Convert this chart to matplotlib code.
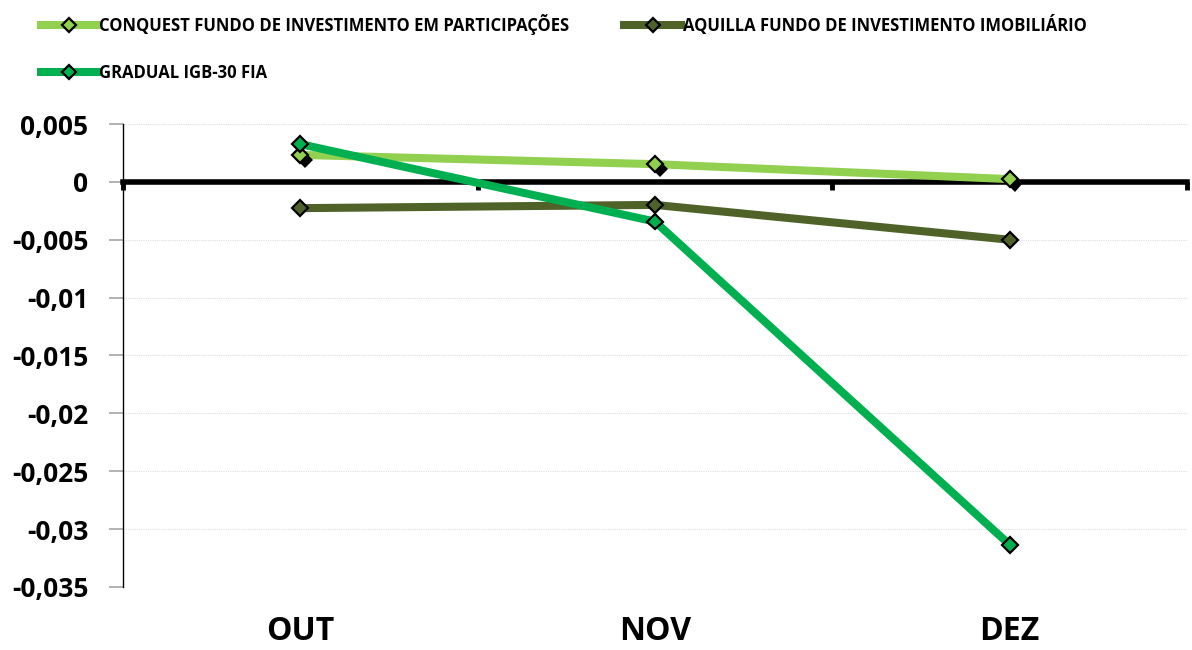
import matplotlib
matplotlib.use("Agg")
import matplotlib.pyplot as plt
import matplotlib.patheffects as pe

plt.rcParams['font.family'] = ['Open Sans', 'DejaVu Sans']

meses = ['OUT', 'NOV', 'DEZ']
conquest = [0.00233, 0.00153, 0.00024]
aquilla = [-0.00227, -0.00199, -0.00500]
gradual = [0.00326, -0.00343, -0.03135]
y_ticks = [0.005, 0, -0.005, -0.01, -0.015, -0.02, -0.025, -0.03, -0.035]
y_labels = ['0,005', '0', '-0,005', '-0,01', '-0,015', '-0,02', '-0,025', '-0,03', '-0,035']

nomes = ['CONQUEST FUNDO DE INVESTIMENTO EM PARTICIPAÇÕES',
         'AQUILLA FUNDO DE INVESTIMENTO IMOBILIÁRIO',
         'GRADUAL IGB-30 FIA']
cores = ['#92D050', '#4F6228', '#00B050']

fig = plt.figure(figsize=(11.92, 6.5), dpi=100)
ax = fig.add_axes([123/1192, 1 - 587/650, (1187 - 123)/1192, (587 - 124)/650])

x = list(range(len(meses)))
handles = []
for i, (vals, nome, cor) in enumerate(zip([conquest, aquilla, gradual], nomes, cores)):
    ax.plot(x, vals, color=cor, lw=5.8, solid_capstyle='butt', zorder=3 + i)
    efeitos = [pe.Normal()]
    if i == 0:
        # sombra preta por baixo dos marcadores da primeira serie
        efeitos = [pe.SimplePatchShadow(offset=(3.5, -3.5), shadow_rgbFace='black', alpha=1), pe.Normal()]
    ax.plot(x, vals, ls='none', marker='D', ms=8, mfc=cor, mec='black', mew=1.6,
            zorder=3.5 + i, path_effects=efeitos)
    h, = ax.plot([], [], color=cor, lw=5.8, marker='D', ms=7, mfc=cor, mec='black', mew=1.6)
    handles.append(h)

ax.set_xlim(-0.5, 2.5)
ax.set_ylim(-0.035, 0.005)
ax.set_yticks(y_ticks, y_labels)
ax.tick_params(axis='y', length=10, width=1.2, color='#A6A6A6', labelsize=19, pad=15)
for lab in ax.get_yticklabels():
    lab.set_fontweight('bold')
ax.grid(axis='y', color='#DDDDDD', ls=(0, (1, 1)), lw=0.8)
ax.set_axisbelow(True)

for s in ['top', 'right']:
    ax.spines[s].set_visible(False)
ax.spines['left'].set_linewidth(1.0)
ax.spines['bottom'].set_position(('data', 0))
ax.spines['bottom'].set_linewidth(4)
ax.spines['bottom'].set_zorder(2.5)
ax.set_xticks([-0.5, 0.5, 1.5, 2.5])
ax.set_xticklabels([])
ax.tick_params(axis='x', length=6, width=3.5, direction='out', color='black')

sec = ax.secondary_xaxis('bottom')
sec.set_xticks(x, meses)
sec.tick_params(length=0, labelsize=23, pad=20)
sec.spines['bottom'].set_visible(False)
for lab in sec.get_xticklabels():
    lab.set_fontweight('bold')

leg = fig.legend([handles[0], handles[2], handles[1]], [nomes[0], nomes[2], nomes[1]],
                 ncol=2, loc='upper left', bbox_to_anchor=(26/1192, 1 + 1/650),
                 frameon=False, handlelength=3.4, handletextpad=0.1,
                 columnspacing=3.3, labelspacing=1.75,
                 prop={'weight': 'bold', 'size': 12})

fig.savefig('out.png', dpi=100)
